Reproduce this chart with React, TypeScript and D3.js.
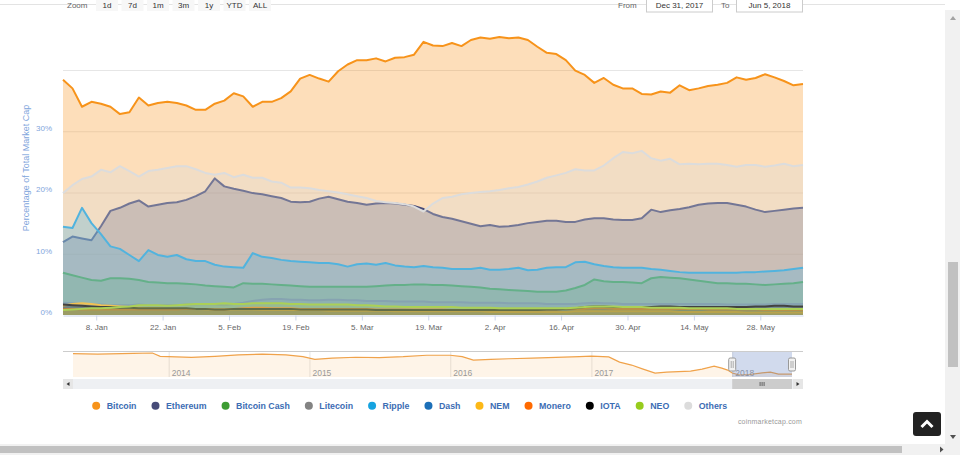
import React, { useEffect, useRef } from 'react';
import * as d3 from 'd3';

const W = 960;
const H = 460;
const plot = { left: 63, right: 803, top: 21, bottom: 315 };
const font = 'Liberation Sans, Arial, sans-serif';

// series as in the legend
const names = ['Bitcoin', 'Ethereum', 'Bitcoin Cash', 'Litecoin', 'Ripple', 'Dash', 'NEM', 'Monero', 'IOTA', 'NEO', 'Others'];
const colors = ['#f7931a', '#474b78', '#3d9c32', '#838383', '#16a3e0', '#1c6fb8', '#fcb817', '#ff6a00', '#000000', '#97cc1d', '#dcdcdc'];

// % of total market cap, one value every 2 days, 1 Jan 2018 .. 6 Jun 2018
const bitcoin = [
  38.4, 37.0, 34.0, 34.8, 34.5, 34.0, 32.8, 33.1, 35.5, 34.2,
  34.6, 34.8, 34.6, 34.2, 33.5, 33.5, 34.5, 35.0, 36.2, 35.7,
  34.0, 34.8, 34.8, 35.4, 36.5, 38.6, 39.2, 38.6, 38.1, 39.8,
  40.9, 41.6, 41.6, 41.9, 41.4, 42.0, 42.1, 42.5, 44.6, 44.0,
  43.9, 44.4, 43.9, 44.9, 45.3, 45.1, 45.4, 45.2, 45.3, 44.9,
  43.8, 42.8, 42.6, 41.6, 39.9, 39.2, 37.9, 38.7, 37.6, 37.0,
  37.0, 36.1, 36.0, 36.5, 36.3, 37.5, 36.7, 37.0, 37.4, 37.6,
  37.9, 38.8, 38.4, 38.7, 39.3, 38.8, 38.2, 37.5, 37.7,
];
const ethereum = [
  11.9, 12.8, 12.5, 12.2, 14.5, 17.0, 17.5, 18.2, 18.7, 17.7,
  18.0, 18.3, 18.4, 18.8, 19.4, 20.2, 22.3, 21.0, 20.6, 20.3,
  19.9, 19.7, 19.4, 19.1, 18.5, 18.4, 18.5, 19.0, 19.3, 18.9,
  18.5, 18.3, 18.0, 18.2, 18.3, 18.2, 18.0, 17.8, 17.3, 16.5,
  16.0, 15.7, 15.3, 14.9, 14.5, 14.7, 14.4, 14.5, 14.7, 15.0,
  15.2, 15.4, 15.4, 15.2, 15.2, 15.6, 15.8, 15.8, 15.6, 15.5,
  15.5, 15.8, 17.2, 16.8, 17.1, 17.3, 17.6, 18.0, 18.2, 18.3,
  18.3, 18.0, 17.7, 17.2, 16.8, 17.0, 17.2, 17.4, 17.5,
];
const bitcoinCash = [
  6.9, 6.5, 6.1, 5.7, 5.6, 6.0, 6.0, 5.9, 5.7, 5.4,
  5.3, 5.2, 5.2, 5.1, 5.0, 4.8, 4.7, 4.6, 4.5, 5.2,
  5.1, 5.1, 5.0, 4.9, 4.8, 4.7, 4.6, 4.6, 4.6, 4.6,
  4.6, 4.6, 4.6, 4.7, 4.8, 4.9, 4.9, 5.0, 5.0, 4.9,
  4.9, 4.8, 4.7, 4.6, 4.5, 4.3, 4.2, 4.1, 4.0, 3.9,
  3.8, 3.8, 3.8, 4.0, 4.4, 4.9, 5.8, 5.5, 5.4, 5.4,
  5.3, 5.2, 6.0, 6.2, 6.1, 6.0, 5.8, 5.6, 5.4, 5.2,
  5.2, 5.1, 5.1, 5.0, 4.9, 5.0, 5.1, 5.2, 5.4,
];
const litecoin = [
  2.0, 1.9, 1.8, 1.7, 1.7, 1.6, 1.6, 1.6, 1.7, 1.6,
  1.6, 1.6, 1.6, 1.7, 1.7, 1.8, 1.7, 1.6, 1.8, 2.0,
  2.3, 2.5, 2.6, 2.6, 2.5, 2.5, 2.4, 2.4, 2.5, 2.5,
  2.4, 2.4, 2.3, 2.3, 2.3, 2.2, 2.2, 2.2, 2.2, 2.1,
  2.1, 2.1, 2.1, 2.0, 2.0, 2.0, 2.0, 1.9, 1.9, 1.9,
  1.9, 1.8, 1.8, 1.8, 1.8, 1.9, 2.0, 1.9, 1.9, 1.8,
  1.8, 1.8, 1.8, 1.8, 1.8, 1.8, 1.8, 1.8, 1.8, 1.8,
  1.7, 1.7, 1.7, 1.7, 1.7, 1.8, 1.8, 1.8, 1.8,
];
const ripple = [
  14.4, 14.2, 17.5, 15.0, 13.2, 11.2, 10.8, 9.8, 8.8, 10.6,
  9.8, 9.5, 9.8, 9.1, 8.8, 8.8, 8.2, 7.9, 7.8, 7.7,
  10.1, 9.5, 9.3, 9.0, 8.8, 8.7, 8.6, 8.5, 8.5, 8.3,
  7.9, 8.3, 8.4, 8.2, 8.5, 8.1, 7.9, 7.8, 8.0, 7.8,
  7.7, 7.5, 7.5, 7.5, 7.7, 7.4, 7.4, 7.5, 7.7, 7.3,
  7.4, 7.7, 7.8, 7.8, 8.6, 8.7, 8.3, 8.0, 7.8, 7.7,
  7.7, 7.7, 7.5, 7.4, 7.2, 7.0, 6.9, 6.9, 6.9, 6.9,
  6.9, 6.9, 7.0, 7.0, 7.1, 7.2, 7.3, 7.5, 7.7,
];
const dash = [
  1.3, 1.3, 1.2, 1.2, 1.1, 1.1, 1.1, 1.0, 1.0, 1.0,
  1.0, 1.0, 1.0, 1.0, 1.0, 0.9, 0.9, 0.9, 1.0, 1.1,
  1.1, 1.0, 1.0, 1.0, 1.0, 1.0, 1.0, 0.9, 0.9, 0.9,
  0.9, 0.9, 0.9, 0.9, 0.9, 0.9, 0.9, 0.8, 0.8, 0.8,
  0.8, 0.8, 0.8, 0.8, 0.8, 0.8, 0.8, 0.8, 0.8, 0.8,
  0.8, 0.8, 0.8, 0.8, 0.9, 0.9, 1.0, 0.9, 0.9, 0.9,
  0.9, 0.9, 0.9, 0.9, 0.8, 0.8, 0.8, 0.8, 0.8, 0.8,
  0.7, 0.7, 0.7, 0.7, 0.7, 0.7, 0.7, 0.7, 0.7,
];
const nem = [
  1.5, 1.8, 1.9, 1.8, 1.6, 1.5, 1.4, 1.3, 1.2, 1.1,
  1.1, 1.0, 1.0, 1.0, 1.0, 0.9, 0.9, 0.9, 0.9, 0.9,
  0.9, 0.8, 0.8, 0.8, 0.8, 0.8, 0.8, 0.8, 0.7, 0.7,
  0.7, 0.7, 0.7, 0.7, 0.7, 0.6, 0.6, 0.6, 0.6, 0.6,
  0.6, 0.6, 0.6, 0.6, 0.6, 0.5, 0.5, 0.5, 0.5, 0.5,
  0.5, 0.5, 0.5, 0.5, 0.6, 0.6, 0.6, 0.6, 0.6, 0.6,
  0.6, 0.6, 0.6, 0.6, 0.6, 0.5, 0.5, 0.5, 0.5, 0.5,
  0.5, 0.5, 0.4, 0.4, 0.4, 0.4, 0.4, 0.4, 0.4,
];
const monero = [
  1.0, 1.0, 0.9, 0.9, 0.9, 0.9, 0.9, 0.9, 0.9, 0.9,
  0.9, 0.9, 0.9, 1.0, 1.0, 1.0, 0.9, 0.9, 1.0, 1.1,
  1.2, 1.2, 1.1, 1.1, 1.1, 1.0, 1.0, 1.0, 1.0, 1.0,
  1.0, 1.0, 1.0, 0.9, 0.9, 0.9, 0.9, 0.9, 0.9, 0.9,
  0.9, 0.8, 0.8, 0.8, 0.8, 0.8, 0.8, 0.8, 0.8, 0.8,
  0.9, 0.9, 0.9, 1.0, 1.0, 1.0, 1.1, 1.1, 1.0, 1.0,
  1.0, 1.0, 1.0, 1.0, 1.0, 1.0, 1.0, 1.0, 0.9, 0.9,
  0.9, 0.9, 0.9, 0.9, 0.8, 0.8, 0.8, 0.8, 0.8,
];
const iota = [
  1.7, 1.6, 1.5, 1.4, 1.3, 1.3, 1.2, 1.2, 1.1, 1.1,
  1.1, 1.1, 1.1, 1.1, 1.0, 1.0, 0.9, 0.9, 1.0, 1.0,
  1.0, 1.0, 1.0, 1.0, 1.0, 0.9, 0.9, 0.9, 0.9, 0.9,
  0.9, 0.9, 0.9, 0.8, 0.8, 0.8, 0.8, 0.8, 0.8, 0.8,
  0.8, 0.8, 0.8, 0.8, 0.8, 0.8, 0.8, 0.8, 0.8, 0.8,
  0.8, 0.9, 0.9, 1.0, 1.1, 1.3, 1.4, 1.4, 1.3, 1.3,
  1.3, 1.3, 1.3, 1.4, 1.4, 1.3, 1.3, 1.3, 1.3, 1.3,
  1.3, 1.3, 1.3, 1.4, 1.4, 1.5, 1.5, 1.4, 1.4,
];
const neo = [
  0.8, 0.9, 1.0, 1.1, 1.1, 1.2, 1.3, 1.4, 1.6, 1.6,
  1.6, 1.5, 1.6, 1.7, 1.8, 1.8, 1.8, 1.9, 1.8, 1.8,
  1.9, 1.9, 1.9, 1.9, 1.8, 1.8, 1.7, 1.7, 1.7, 1.7,
  1.7, 1.6, 1.6, 1.5, 1.4, 1.4, 1.3, 1.3, 1.3, 1.3,
  1.3, 1.3, 1.2, 1.2, 1.2, 1.2, 1.1, 1.1, 1.1, 1.1,
  1.1, 1.1, 1.1, 1.1, 1.2, 1.3, 1.4, 1.4, 1.4, 1.3,
  1.3, 1.3, 1.2, 1.2, 1.2, 1.2, 1.1, 1.1, 1.1, 1.1,
  1.1, 1.0, 1.0, 1.0, 1.0, 1.0, 1.0, 1.0, 1.0,
];
const others = [
  19.9, 21.2, 22.2, 22.6, 23.7, 23.3, 24.3, 23.5, 22.6, 23.5,
  23.7, 24.0, 24.3, 24.3, 23.8, 23.2, 22.9, 23.2, 22.5, 22.9,
  22.4, 22.4, 21.8, 21.6, 20.8, 20.8, 20.7, 20.4, 20.2, 20.0,
  19.7, 19.4, 19.1, 18.6, 18.4, 18.3, 18.1, 17.7, 16.9, 18.2,
  19.1, 19.3, 19.7, 19.9, 20.1, 20.2, 20.4, 20.7, 20.9, 21.3,
  21.8, 22.4, 22.8, 23.2, 23.8, 23.6, 23.6, 24.4, 25.6, 26.6,
  26.4, 26.8, 25.6, 25.2, 25.5, 24.6, 24.7, 24.6, 24.7, 24.7,
  24.5, 24.2, 24.5, 24.5, 24.2, 24.4, 24.7, 24.3, 24.5,
];
const series = [bitcoin, ethereum, bitcoinCash, litecoin, ripple, dash, nem, monero, iota, neo, others];

const start = new Date(Date.UTC(2018, 0, 1));
const dates = bitcoin.map((_, i) => d3.utcDay.offset(start, i * 2));

// navigator: bitcoin dominance since 2013
const navDates = [
  '2013-04-28', '2013-07-01', '2013-10-01', '2013-11-20', '2013-12-10',
  '2014-01-01', '2014-03-01', '2014-05-01', '2014-07-01', '2014-09-01', '2014-11-01', '2014-12-15',
  '2015-01-15', '2015-03-01', '2015-05-01', '2015-07-01', '2015-09-01', '2015-11-01',
  '2016-01-01', '2016-02-01', '2016-03-01', '2016-04-15', '2016-06-01', '2016-08-01', '2016-10-01', '2016-12-01',
  '2017-01-01', '2017-02-15', '2017-03-15', '2017-04-15', '2017-05-15', '2017-06-15', '2017-07-15',
  '2017-08-15', '2017-09-15', '2017-10-15', '2017-11-15', '2017-12-05', '2017-12-20',
  '2018-01-01', '2018-01-20', '2018-02-15', '2018-03-15', '2018-04-10', '2018-05-01', '2018-06-05',
].map(s => new Date(s + 'T00:00:00Z'));
const navBitcoin = [
  92.5, 90.7, 93, 94, 85,
  84, 82, 85, 89, 90.7, 89, 84,
  77, 80, 82.5, 81.5, 84, 88,
  88, 84, 74.7, 77, 78.5, 80, 82, 84,
  85.5, 83.5, 69.5, 61.5, 50.7, 40, 42.5,
  44, 45.3, 50.7, 58.7, 53.3, 48,
  40, 34.7, 36, 40, 42.5, 37.3, 37.3,
];

const rangeButtons = ['1d', '7d', '1m', '3m', '1y', 'YTD', 'ALL'];

export default function App() {
  const ref = useRef<SVGSVGElement>(null);

  useEffect(() => {
    document.body.style.margin = '0';
    document.body.style.overflow = 'hidden';
    const svg = d3.select(ref.current);
    svg.selectAll('*').remove();
    svg.attr('font-family', font);

    const x = d3.scaleUtc().domain([dates[0], dates[dates.length - 1]]).range([plot.left, plot.right]);
    const y = d3.scaleLinear().domain([0, 48]).range([plot.bottom, plot.top]);

    // header strip (range selector, mostly scrolled away)
    svg.append('line').attr('x1', 0).attr('x2', 945).attr('y1', 4.5).attr('y2', 4.5).attr('stroke', '#e3e3e3');
    svg.append('text').attr('x', 67).attr('y', 8).attr('font-size', 8).attr('fill', '#666').text('Zoom');
    rangeButtons.forEach((b, i) => {
      const bx = 96 + i * 25.5;
      svg.append('rect').attr('x', bx).attr('y', -10).attr('width', 22).attr('height', 21).attr('fill', '#f7f7f7');
      svg.append('text').attr('x', bx + 11).attr('y', 8).attr('text-anchor', 'middle').attr('font-size', 8).attr('fill', '#333').text(b);
    });
    svg.append('text').attr('x', 618).attr('y', 8).attr('font-size', 8).attr('fill', '#666').text('From');
    svg.append('rect').attr('x', 646.5).attr('y', -8).attr('width', 66).attr('height', 20).attr('fill', '#fff').attr('stroke', '#ccc');
    svg.append('text').attr('x', 679.5).attr('y', 8).attr('text-anchor', 'middle').attr('font-size', 8).attr('fill', '#333').text('Dec 31, 2017');
    svg.append('text').attr('x', 721).attr('y', 8).attr('font-size', 8).attr('fill', '#666').text('To');
    svg.append('rect').attr('x', 736.5).attr('y', -8).attr('width', 66).attr('height', 20).attr('fill', '#fff').attr('stroke', '#ccc');
    svg.append('text').attr('x', 769.5).attr('y', 8).attr('text-anchor', 'middle').attr('font-size', 8).attr('fill', '#333').text('Jun 5, 2018');

    // grid
    svg.append('g').selectAll('line').data([10, 20, 30, 40]).join('line')
      .attr('x1', plot.left).attr('x2', plot.right)
      .attr('y1', d => y(d) + 0.5).attr('y2', d => y(d) + 0.5)
      .attr('stroke', '#e6e6e6');

    // overlapping areas, each drawn over the previous one
    const area = d3.area<number>().x((d, i) => x(dates[i])).y0(y(0)).y1(d => y(d));
    const line = d3.line<number>().x((d, i) => x(dates[i])).y(d => y(d));
    const chart = svg.append('g');
    series.forEach((s, k) => {
      const sg = chart.append('g');
      sg.append('path').attr('d', area(s)).attr('fill', colors[k]).attr('fill-opacity', 0.3);
      sg.append('path').attr('d', line(s)).attr('fill', 'none').attr('stroke', colors[k])
        .attr('stroke-width', 2).attr('stroke-linejoin', 'round');
    });

    // y axis
    const yAxis = svg.append('g').attr('transform', `translate(${plot.left},0)`)
      .call(d3.axisLeft(y).tickValues([0, 10, 20, 30]).tickFormat(d => d + '%').tickSize(0).tickPadding(11));
    yAxis.select('.domain').remove();
    yAxis.selectAll('text').attr('fill', '#7fa6dc').attr('font-size', 8).attr('font-family', font).attr('dy', '-0.08em');

    svg.append('text')
      .attr('transform', `translate(29,168) rotate(-90)`)
      .attr('text-anchor', 'middle').attr('font-size', 9).attr('fill', '#7fa6dc')
      .text('Percentage of Total Market Cap');

    // x axis
    const xTicks = d3.utcDay.range(new Date(Date.UTC(2018, 0, 8)), dates[dates.length - 1], 14);
    const xAxis = svg.append('g').attr('transform', `translate(0,${plot.bottom + 0.5})`)
      .call(d3.axisBottom(x).tickValues(xTicks).tickFormat(d3.utcFormat('%-d. %b') as any)
        .tickSize(5).tickSizeOuter(0).tickPadding(4));
    xAxis.select('.domain').attr('stroke', '#ccd6eb');
    xAxis.selectAll('line').attr('stroke', '#ccd6eb');
    xAxis.selectAll('text').attr('fill', '#666').attr('font-size', 8).attr('font-family', font);

    // navigator
    const nx = d3.scaleUtc().domain([navDates[0], navDates[navDates.length - 1]]).range([73, 792]);
    const ny = d3.scaleLinear().domain(d3.extent(navBitcoin) as [number, number]).range([375, 353]);
    const nav = svg.append('g');
    const years = nx.ticks(d3.utcYear.every(1)!);
    nav.selectAll('line.grid').data(years).join('line').attr('class', 'grid')
      .attr('x1', d => nx(d) + 0.5).attr('x2', d => nx(d) + 0.5).attr('y1', 352).attr('y2', 377)
      .attr('stroke', '#e6e6e6');
    nav.append('path')
      .attr('d', d3.area<number>().x((d, i) => nx(navDates[i])).y0(377).y1(d => ny(d))(navBitcoin))
      .attr('fill', '#f7931a').attr('fill-opacity', 0.1);
    nav.append('path')
      .attr('d', d3.line<number>().x((d, i) => nx(navDates[i])).y(d => ny(d))(navBitcoin))
      .attr('fill', 'none').attr('stroke', '#f0a24a').attr('stroke-width', 1.2);
    nav.selectAll('text.year').data(years).join('text').attr('class', 'year')
      .attr('x', d => nx(d) + 3).attr('y', 376).attr('font-size', 8.5).attr('fill', '#999')
      .text(d => d3.utcFormat('%Y')(d));
    const selA = nx(dates[0]);
    const selB = 792;
    nav.append('rect').attr('x', selA).attr('y', 352).attr('width', selB - selA).attr('height', 25)
      .attr('fill', 'rgba(102,133,194,0.3)');
    nav.append('line').attr('x1', plot.left).attr('x2', plot.right).attr('y1', 351.5).attr('y2', 351.5).attr('stroke', '#cccccc');
    [selA, selB].forEach(hx => {
      nav.append('rect').attr('x', hx - 3.5).attr('y', 358).attr('width', 7).attr('height', 13).attr('rx', 1.5)
        .attr('fill', '#f2f2f2').attr('stroke', '#999');
      nav.append('path').attr('d', `M${hx - 1},361 V368 M${hx + 1},361 V368`).attr('stroke', '#999').attr('stroke-width', 0.8);
    });

    // scrollbar
    svg.append('rect').attr('x', plot.left).attr('y', 379).attr('width', plot.right - plot.left).attr('height', 10).attr('fill', '#eef0f3');
    svg.append('rect').attr('x', selA).attr('y', 379).attr('width', selB - selA).attr('height', 10).attr('fill', '#cccccc');
    const mid = (selA + selB) / 2;
    svg.append('path').attr('d', `M${mid - 2},382 V386 M${mid},382 V386 M${mid + 2},382 V386`).attr('stroke', '#333').attr('stroke-width', 0.7);
    svg.append('rect').attr('x', plot.left).attr('y', 379).attr('width', 10).attr('height', 10).attr('fill', '#e6e6e6');
    svg.append('path').attr('d', `M69.5,382 L66.5,384 L69.5,386 Z`).attr('fill', '#333');
    svg.append('rect').attr('x', 793).attr('y', 379).attr('width', 10).attr('height', 10).attr('fill', '#e6e6e6');
    svg.append('path').attr('d', `M796.5,382 L799.5,384 L796.5,386 Z`).attr('fill', '#333');

    // legend
    const legend = svg.append('g');
    let cx = 0;
    names.forEach((n, k) => {
      const it = legend.append('g').attr('transform', `translate(${cx},0)`);
      it.append('circle').attr('r', 4).attr('fill', colors[k]);
      const t = it.append('text').attr('x', 10.5).attr('y', 3.2).attr('font-size', 8.8).attr('font-weight', 'bold')
        .attr('fill', '#3c6db4').text(n);
      const w = (t.node() as SVGTextElement).getComputedTextLength();
      cx += 10.5 + w + 19;
    });
    const total = cx - 19;
    legend.attr('transform', `translate(${(100 + 723.3) / 2 - total / 2},405.7)`);

    svg.append('text').attr('x', 802).attr('y', 423.5).attr('text-anchor', 'end').attr('font-size', 7)
      .attr('fill', '#999').attr('letter-spacing', 0.2).text('coinmarketcap.com');

    // back to top button
    svg.append('rect').attr('x', 913).attr('y', 412).attr('width', 28).attr('height', 24).attr('rx', 3).attr('fill', '#222');
    svg.append('path').attr('d', 'M921.5,427 L927,421.5 L932.5,427').attr('fill', 'none').attr('stroke', '#fff').attr('stroke-width', 3);

    // browser scrollbars
    svg.append('rect').attr('x', 945).attr('y', 10).attr('width', 15).attr('height', 434).attr('fill', '#f1f1f1');
    svg.append('rect').attr('x', 948).attr('y', 262).attr('width', 10).attr('height', 105).attr('fill', '#c1c1c1');
    svg.append('path').attr('d', 'M950,20 L953,16 L956,20 Z').attr('fill', '#a3a3a3');
    svg.append('path').attr('d', 'M950,435 L953,439 L956,435 Z').attr('fill', '#505050');
    svg.append('rect').attr('x', 0).attr('y', 444).attr('width', 960).attr('height', 11).attr('fill', '#f1f1f1');
    svg.append('rect').attr('x', 0).attr('y', 446).attr('width', 902).attr('height', 7).attr('fill', '#c1c1c1');
    svg.append('path').attr('d', 'M940,446.5 L943.5,449.5 L940,452.5 Z').attr('fill', '#505050');
  }, []);

  return <svg ref={ref} width={W} height={H} style={{ position: 'absolute', left: 0, top: 0, background: '#fff' }} />;
}
